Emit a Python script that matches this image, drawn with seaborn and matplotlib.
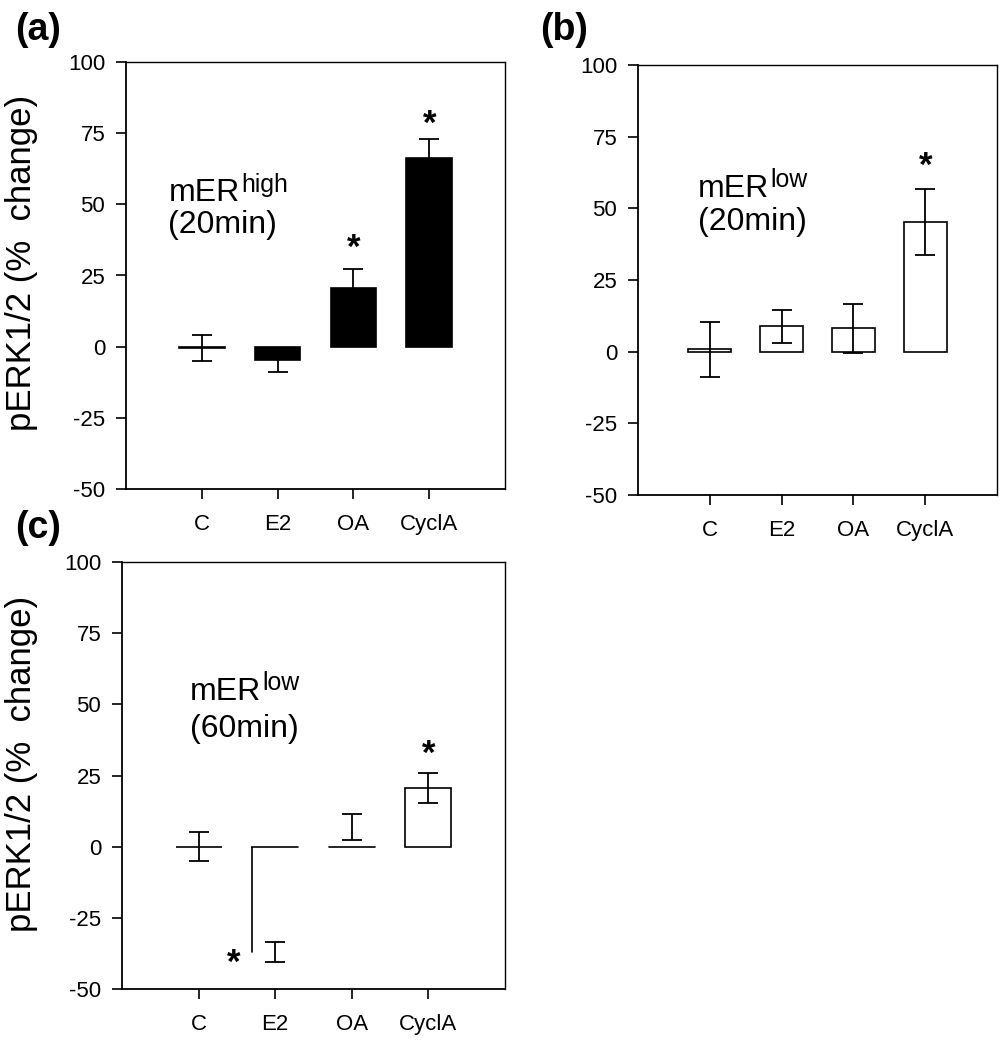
import matplotlib
matplotlib.use("Agg")
import matplotlib.pyplot as plt
import seaborn as sns
import numpy as np

# ---------------- data ----------------
categories = ["C", "E2", "OA", "CyclA"]

a_values = [-0.5, -4.7, 20.6, 66.3]
a_errors = [4.6, 4.1, 6.8, 6.5]
a_stars = [("OA", 36.0), ("CyclA", 79.5)]

b_values = [0.8, 8.8, 8.2, 45.1]
b_errors = [9.7, 5.9, 8.5, 11.5]
b_stars = [("CyclA", 66.0)]

c_values = [0.0, -37.1, 6.9, 20.6]
c_errors = [5.2, 3.5, 4.5, 5.4]
c_stars = [("CyclA", 34.0), ("E2", -39.5)]

yticks = [-50, -25, 0, 25, 50, 75, 100]
ylabel = "pERK1/2 (%  change)"

# ---------------- style ----------------
sns.set_style("ticks")
plt.rcParams["font.family"] = ["Liberation Sans", "DejaVu Sans"]
plt.rcParams["axes.linewidth"] = 1.3
plt.rcParams["axes.unicode_minus"] = False
plt.rcParams["text.color"] = "black"
plt.rcParams["axes.labelcolor"] = "black"
plt.rcParams["xtick.color"] = "black"
plt.rcParams["ytick.color"] = "black"
plt.rcParams["axes.edgecolor"] = "black"

fig = plt.figure(figsize=(10.04, 10.49), dpi=100)

W, H = 1004, 1049
def axpos(l, r, t, b):
    return [l / W, 1 - b / H, (r - l) / W, (b - t) / H]

ax_a = fig.add_axes(axpos(126, 505, 62, 489))
ax_b = fig.add_axes(axpos(638, 997, 65, 495))
ax_c = fig.add_axes(axpos(122, 505, 562, 989))

TICK_FS = 16
ANN_FS = 23


def draw_panel(ax, values, errors, fill):
    sns.barplot(x=categories, y=values, ax=ax, color=fill, edgecolor="black",
                linewidth=1.2, width=0.6, errorbar=None, saturation=1)
    ax.errorbar(np.arange(len(categories)), values, yerr=errors, fmt="none",
                ecolor="black", elinewidth=1.3, capsize=7, capthick=1.3, zorder=5)
    ax.set_xlim(-1, 4)
    ax.set_ylim(-50, 100)
    ax.set_yticks(yticks)
    ax.set_xlabel("")
    ax.set_ylabel("")
    ax.tick_params(axis="both", direction="out", length=7, width=1.2,
                   labelsize=TICK_FS, colors="black")
    ax.tick_params(axis="y", pad=8)
    ax.tick_params(axis="x", pad=11)
    for s in ["top", "right"]:
        ax.spines[s].set_visible(True)
        ax.spines[s].set_linewidth(1.0)
    for s in ["left", "bottom"]:
        ax.spines[s].set_linewidth(1.3)


def stars(ax, star_list, dx_pts=0):
    for cat, yv in star_list:
        ax.annotate("*", xy=(categories.index(cat), yv), xytext=(dx_pts, -3),
                    textcoords="offset points", ha="center", va="center",
                    fontsize=25, fontweight="bold", color="black")


def label_text(ax, x, y1, y2, main, sup, paren):
    t = ax.text(x, y1, main, fontsize=ANN_FS, ha="left", va="baseline")
    ax.annotate(sup, xy=(1, 0), xycoords=t, xytext=(1, 12),
                textcoords="offset points", fontsize=ANN_FS * 0.78,
                ha="left", va="baseline")
    ax.text(x, y2, paren, fontsize=ANN_FS, ha="left", va="baseline")


# panel (a)
draw_panel(ax_a, a_values, a_errors, "black")
stars(ax_a, a_stars)
label_text(ax_a, -0.44, 51.0, 39.8, "mER", "high", "(20min)")
ax_a.set_ylabel(ylabel, fontsize=25)
ax_a.yaxis.set_label_coords(-0.232, 0.53)

# panel (b)
draw_panel(ax_b, b_values, b_errors, "white")
stars(ax_b, b_stars)
label_text(ax_b, -0.17, 54.0, 42.6, "mER", "low", "(20min)")

# panel (c)
draw_panel(ax_c, c_values, c_errors, "white")
stars(ax_c, c_stars[:1])
stars(ax_c, c_stars[1:], dx_pts=-30)
label_text(ax_c, -0.11, 51.6, 38.6, "mER", "low", "(60min)")
ax_c.set_ylabel(ylabel, fontsize=25)
ax_c.yaxis.set_label_coords(-0.219, 0.527)

# in (c) the E2 bar shows only its left side and baseline, OA only its baseline
bars_c = ax_c.patches
for i in (1, 2):
    p = bars_c[i]
    p.set_linewidth(0)
    x0, w = p.get_x(), p.get_width()
    y0 = p.get_y()
    ax_c.plot([x0, x0 + w], [y0, y0], color="black", lw=1.2, zorder=4)
    if i == 1:
        ax_c.plot([x0, x0], [y0, y0 + p.get_height()], color="black", lw=1.2, zorder=4)

# panel letters
fig.text(15 / W, 1 - 12 / H, "(a)", fontsize=27, fontweight="bold", va="top", ha="left")
fig.text(540 / W, 1 - 12 / H, "(b)", fontsize=27, fontweight="bold", va="top", ha="left")
fig.text(15 / W, 1 - 510 / H, "(c)", fontsize=27, fontweight="bold", va="top", ha="left")

fig.savefig("out.png", dpi=100, facecolor="white")
